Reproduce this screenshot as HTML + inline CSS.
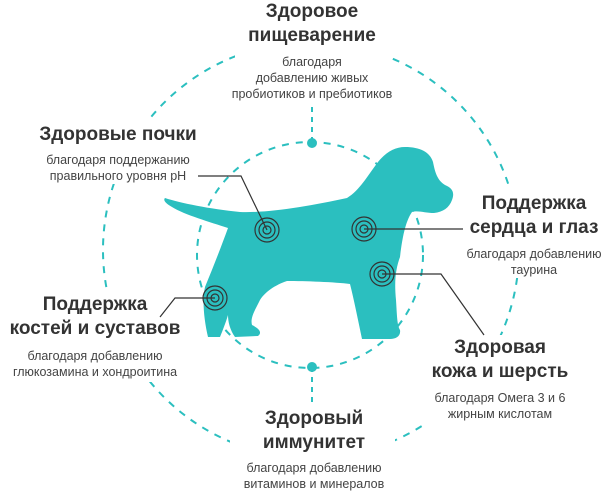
<!DOCTYPE html>
<html><head><meta charset="utf-8"><style>
body{margin:0;background:#fff;}
.w{position:relative;width:610px;height:495px;overflow:hidden;font-family:"Liberation Sans","DejaVu Sans",sans-serif;}
.t{position:absolute;text-align:center;white-space:nowrap;}
.h{font-weight:bold;font-size:19px;color:#333;line-height:24px;}
.s{font-size:12.5px;color:#444;line-height:16px;}
</style></head><body><div class="w">
<svg width="610" height="495" style="position:absolute;left:0;top:0">
<circle cx="311" cy="250" r="208" fill="none" stroke="#2bbfbf" stroke-width="2" stroke-dasharray="7 7"/>
<g fill="#fff">
<rect x="235" y="0" width="155" height="103"/>
<rect x="30" y="118" width="180" height="66"/>
<rect x="450" y="188" width="160" height="90"/>
<rect x="0" y="292" width="195" height="90"/>
<rect x="420" y="335" width="175" height="90"/>
<rect x="230" y="405" width="165" height="90"/>
</g>
<circle cx="310" cy="255" r="113" fill="none" stroke="#2bbfbf" stroke-width="2" stroke-dasharray="7 7"/>
<line x1="312" y1="107" x2="312" y2="143" stroke="#2bbfbf" stroke-width="2" stroke-dasharray="5 5"/>
<line x1="312" y1="367" x2="312" y2="405" stroke="#2bbfbf" stroke-width="2" stroke-dasharray="5 5"/>
<circle cx="312" cy="143" r="5" fill="#2bbfbf"/>
<circle cx="312" cy="367" r="5" fill="#2bbfbf"/>
<path fill="#2bbfbf" d="M165,198 C180,203 210,209 240,212 C270,213 310,206 347,198 C360,190 368,175 378,162 C386,152 395,147 405,147 C420,147 430,152 433,162 C435,172 437,180 445,185 C452,188 455,192 452,200 C449,208 443,212 434,213 C425,213 418,210 412,212 C405,222 402,240 400,257 C396,268 394,280 396,300 C397,315 397,325 400,330 C401,336 396,339 390,339 L362,339 C358,320 354,300 350,284 C335,282 305,281 287,281 C275,285 265,292 260,300 C255,310 250,318 252,325 C258,328 263,332 258,336 L235,337 C230,330 228,322 228,315 C226,322 222,332 220,337 L208,337 C204,320 202,300 205,287 C212,270 220,250 228,228 C210,222 185,215 172,207 C165,203 163,200 165,198 Z"/>
<g fill="none" stroke="#333" stroke-width="1.2">
<circle cx="267" cy="230" r="12"/><circle cx="267" cy="230" r="8"/><circle cx="267" cy="230" r="4"/>
<circle cx="364" cy="229" r="12"/><circle cx="364" cy="229" r="8"/><circle cx="364" cy="229" r="4"/>
<circle cx="382" cy="274" r="12"/><circle cx="382" cy="274" r="8"/><circle cx="382" cy="274" r="4"/>
<circle cx="215" cy="298" r="12"/><circle cx="215" cy="298" r="8"/><circle cx="215" cy="298" r="4"/>
<polyline points="198,176 241,176 267,230"/>
<polyline points="364,229 463,229"/>
<polyline points="382,274 441,274 484,335"/>
<polyline points="215,298 175,298 160,317"/>
</g>
</svg>
<div class="t h" style="left:212px;width:200px;top:0px">Здоровое<br>пищеварение</div>
<div class="t s" style="left:212px;width:200px;top:54px">благодаря<br>добавлению живых<br>пробиотиков и пребиотиков</div>
<div class="t h" style="left:18px;width:200px;top:123px">Здоровые почки</div>
<div class="t s" style="left:18px;width:200px;top:152px">благодаря поддержанию<br>правильного уровня pH</div>
<div class="t h" style="left:434px;width:200px;top:192px">Поддержка<br>сердца и глаз</div>
<div class="t s" style="left:434px;width:200px;top:246px">благодаря добавлению<br>таурина</div>
<div class="t h" style="left:-5px;width:200px;top:293px">Поддержка<br>костей и суставов</div>
<div class="t s" style="left:-5px;width:200px;top:348px">благодаря добавлению<br>глюкозамина и хондроитина</div>
<div class="t h" style="left:400px;width:200px;top:336px">Здоровая<br>кожа и шерсть</div>
<div class="t s" style="left:400px;width:200px;top:390px">благодаря Омега 3 и 6<br>жирным кислотам</div>
<div class="t h" style="left:214px;width:200px;top:407px">Здоровый<br>иммунитет</div>
<div class="t s" style="left:214px;width:200px;top:460px">благодаря добавлению<br>витаминов и минералов</div>
</div></body></html>
